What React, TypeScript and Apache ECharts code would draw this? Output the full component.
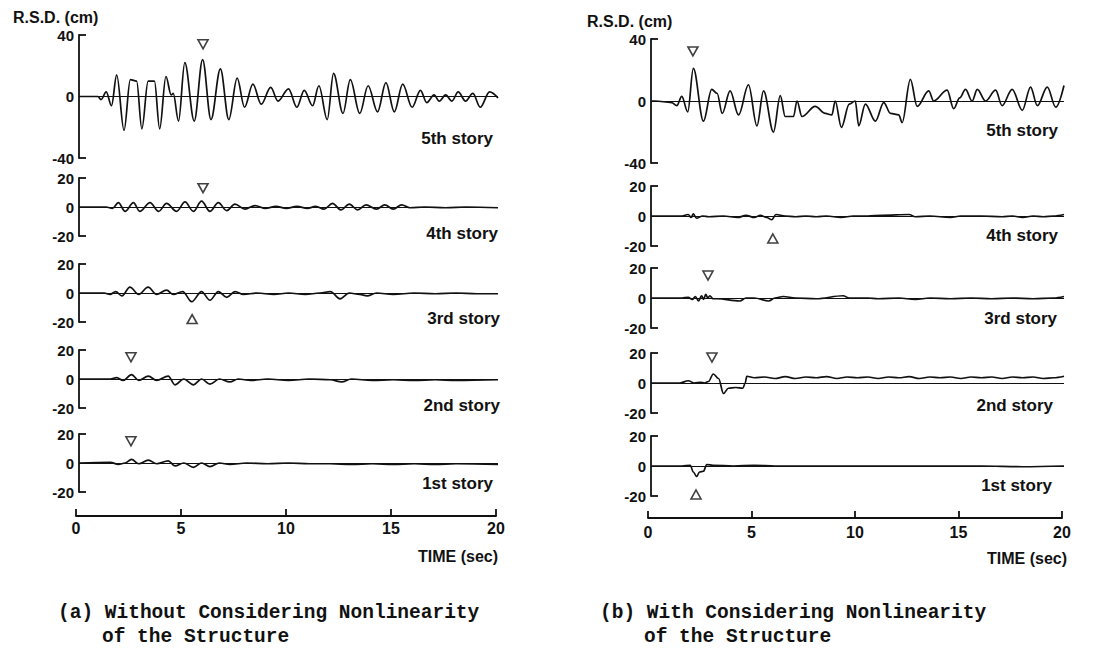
import React, { useEffect, useRef } from "react";
import * as echarts from "echarts";

// ---------- data: [time (sec), R.S.D. (cm)] ----------
const storyNames = ["5th story", "4th story", "3rd story", "2nd story", "1st story"];
const xTicks = [0, 5, 10, 15, 20];
const bigRange = 40;
const smallRange = 20;

// (a) Without considering nonlinearity
const aStory5 = [[0,0],[0.9,0],[1.05,-2],[1.3,3],[1.55,-6],[1.8,14],[2.15,-22],[2.45,11],[2.75,10],[3.0,-21],[3.3,10],[3.6,10],[3.85,-21],[4.15,13],[4.4,1],[4.5,2],[4.75,-16],[5.05,22],[5.5,-16],[5.9,24],[6.3,-15],[6.75,18],[7.15,-15],[7.55,12],[7.9,-7],[8.3,8],[8.7,-5],[9.15,6],[9.5,-3],[10.0,5],[10.4,-7],[10.75,4],[11.15,-6],[11.45,7],[11.85,-15],[12.15,15],[12.6,-11],[12.95,11],[13.4,-11],[13.8,7],[14.25,-10],[14.65,9],[15.05,-10],[15.45,8],[15.9,-7],[16.3,4],[16.6,-4],[16.95,1],[17.2,-3],[17.5,1],[17.8,-3],[18.1,3],[18.45,-3],[18.8,2],[19.15,-7],[19.6,3],[20,-1]];
const aStory4 = [[0,0],[1.3,0],[1.6,-1],[1.88,3],[2.2,-3],[2.6,3],[2.9,-3],[3.39,3],[3.8,-3],[4.18,2.5],[4.66,-3],[5.06,3.5],[5.46,-3],[5.85,4],[6.25,-3],[6.65,3],[7.05,-2.5],[7.44,2],[7.92,-1.5],[8.4,1],[8.9,-1],[9.4,0.5],[9.9,-1],[10.4,0.5],[10.9,-1],[11.3,0.5],[11.7,-1.5],[12.1,2.5],[12.5,-2],[12.9,2],[13.3,-2],[13.7,1.5],[14.2,-1.5],[14.6,1.5],[15.0,-1.5],[15.4,1.5],[15.8,-0.5],[16.5,0],[17.5,-0.5],[18.5,0],[20,-0.5]];
const aStory3 = [[0,0],[1.2,0],[1.48,-1],[1.75,1],[2.05,-2],[2.43,4],[2.85,-1],[3.3,4],[3.7,-1],[4.18,2],[4.5,-1],[4.95,1],[5.38,-6],[5.85,1],[6.25,-5],[6.65,1],[7.05,-3],[7.45,1],[7.85,-1],[8.5,0],[9.3,-1],[10.0,0],[10.8,-1],[11.5,0],[12.0,1],[12.46,-4],[12.9,0],[13.4,-1],[13.75,-2],[14.2,0],[15.0,-1],[16.0,0],[17.0,-0.5],[18.0,0],[19.0,-0.5],[20,-0.5]];
const aStory2 = [[0,0],[1.5,0],[1.8,1],[2.1,-1],[2.51,3],[2.85,-1],[3.31,2],[3.7,-1],[4.26,2],[4.58,-4],[5.0,0],[5.46,-4],[5.85,0],[6.25,-3.5],[6.7,0],[7.2,-2],[7.6,0],[8.2,-1],[9.0,0],[10.0,-1],[11.0,0],[12.0,-0.5],[12.54,-2],[13.0,0],[14.0,-1],[15.0,-0.5],[16.0,-1],[17.0,-0.5],[18.0,-1],[20,-0.5]];
const aStory1 = [[0,0],[1.5,0.5],[1.88,-1],[2.2,0],[2.51,2.5],[2.85,-0.5],[3.31,2],[3.7,-0.5],[4.26,1.5],[4.58,-2],[5.0,0],[5.46,-3],[5.85,0],[6.25,-2.5],[6.7,0],[7.2,-1],[8.0,0],[9.0,-0.5],[10.0,0],[11.0,-0.5],[12.0,-0.5],[13.0,-1],[14.0,-0.5],[15.0,-1],[16.0,-0.5],[17.0,-1],[18.0,-0.5],[20,-1]];

// (b) With considering nonlinearity
const bStory5 = [[0,0],[0.2,0],[1.0,-1],[1.25,-3],[1.49,3],[1.78,-7],[2.05,21],[2.54,-13],[2.94,7.5],[3.2,5],[3.45,-8],[3.83,6.5],[4.24,-9],[4.72,10.5],[5.13,-16],[5.45,6.5],[5.93,-20],[6.26,3.5],[6.5,-10],[6.9,-10],[7.07,0],[7.31,-10],[7.95,-3.5],[8.44,-8],[8.76,-9],[8.92,0],[9.22,-17],[9.6,-2],[9.89,0],[10.06,-16],[10.38,-2],[10.87,-13],[11.27,-1],[11.6,-8],[12.0,-9],[12.16,-14],[12.56,14],[12.89,-3.5],[13.45,6.5],[13.69,0],[14.34,7],[14.66,-5],[14.95,2],[15.23,7.5],[15.55,0],[15.8,7.5],[16.2,0],[16.69,7],[17.0,-3],[17.49,7.5],[17.98,-6],[18.38,9],[18.71,-3],[19.19,9],[19.6,-4],[20,10]];
const bStory4 = [[0,0],[1.5,0],[1.8,1],[1.95,-1],[2.05,1.5],[2.2,-1.5],[2.5,0],[2.8,-0.5],[3.5,0],[4.2,-1],[4.6,0.5],[5.0,-1],[5.3,0.5],[5.6,-1],[5.85,-2.5],[6.05,1],[6.5,0],[7.0,-0.5],[7.5,0],[8.0,-0.5],[8.5,0],[9.2,-1],[9.8,0],[10.5,0],[11.2,0.5],[12.5,1],[12.8,-0.5],[13.5,0],[14.5,-1],[15.0,0],[16.0,0],[17.0,-0.5],[17.5,0],[18.0,-1],[18.5,0],[19.0,-0.5],[19.5,0],[20,1]];
const bStory3 = [[0,0],[1.5,0],[1.8,0.5],[2.0,-1],[2.15,1],[2.3,-2],[2.45,1.5],[2.55,-1],[2.65,2.5],[2.75,0],[2.85,1.5],[3.0,-0.5],[3.2,-0.5],[4.3,-2],[4.6,0],[5.0,0],[5.7,-2],[6.0,0],[6.4,1],[7.0,0],[8.0,-0.5],[9.3,1.5],[9.6,0],[10.5,0],[11.0,-0.5],[12.0,0],[12.8,-1],[13.5,0],[14.5,-0.5],[15.5,0],[16.5,-0.5],[17.5,0],[18.5,-0.5],[19.5,0],[20,1]];
const bStory2 = [[0,0],[1.4,0],[1.8,1.5],[2.1,0],[2.4,0.5],[2.6,0],[2.78,1],[3.02,6],[3.27,3],[3.51,-7],[3.75,-3.5],[4.1,-3],[4.45,-3.5],[4.56,0],[4.64,4.5],[5.0,3.5],[5.5,4],[6.0,3],[6.5,4.2],[7.0,3],[7.5,4],[8.0,3.5],[8.5,4.3],[9.0,3],[9.5,4],[10.0,3.5],[10.5,4],[11.0,3],[11.5,4],[12.0,3.5],[12.5,4.2],[13.0,3],[13.5,4],[14.0,3.5],[14.5,4],[15.0,3],[15.5,4],[16.0,3.5],[16.5,4],[17.0,3],[17.5,4],[18.0,3.5],[18.5,4],[19.0,3],[19.5,3.5],[20,4.5]];
const bStory1 = [[0,0],[1.5,0],[1.9,0.5],[2.05,-4],[2.21,-7],[2.35,-4],[2.54,-3.5],[2.7,1],[3.0,0.5],[4.0,0],[5.0,0.5],[6.0,0],[8.0,0],[10.0,0],[12.0,0],[14.0,0],[16.0,0],[18.0,-0.5],[20,0]];

// peak markers: [time, value, pointsDown(1) / pointsUp(0)]
const aMarkers = [[5.92, 34, 1], [5.92, 13, 1], [5.4, -18, 0], [2.48, 15, 1], [2.48, 15, 1]];
const bMarkers = [[2.03, 32, 1], [5.9, -15, 0], [2.76, 15, 1], [2.95, 17, 1], [2.18, -19, 0]];

const aSeries = [aStory5, aStory4, aStory3, aStory2, aStory1];
const bSeries = [bStory5, bStory4, bStory3, bStory2, bStory1];

// ---------- layout ----------
const sides = [
  { left: 79, width: 419, tops: [35, 178, 264, 350, 434], heights: [123, 58, 58, 58, 58], axisTop: 515, labelMargin: 4,
    series: aSeries, markers: aMarkers,
    storyPos: [[493, 138], [498, 233], [500, 318], [500, 405], [493, 483]] },
  { left: 651, width: 413, tops: [39, 186, 268, 353, 436], heights: [124, 60, 60, 60, 60], axisTop: 517, labelMargin: 6,
    series: bSeries, markers: bMarkers,
    storyPos: [[1058, 130], [1058, 235], [1057, 318], [1053, 405], [1052, 485]] },
];

const FONT = "'Liberation Sans', Arial, Helvetica, sans-serif";
const MONO = "'Liberation Mono', 'Courier New', monospace";
const INK = "#111";

export default function App() {
  const ref = useRef<HTMLDivElement>(null);
  useEffect(() => {
    if (!ref.current) return;
    const chart = echarts.init(ref.current, null, { renderer: "svg" });
    const grid: any[] = [];
    const xAxis: any[] = [];
    const yAxis: any[] = [];
    const series: any[] = [];
    const graphic: any[] = [];

    sides.forEach((side) => {
      side.series.forEach((data, i) => {
        const idx = grid.length;
        const r = i === 0 ? bigRange : smallRange;
        grid.push({ left: side.left, top: side.tops[i], width: side.width, height: side.heights[i] });
        xAxis.push({ gridIndex: idx, type: "value", min: 0, max: 20, show: false });
        yAxis.push({
          gridIndex: idx, type: "value", min: -r, max: r, interval: r,
          axisLine: { show: true, lineStyle: { color: INK, width: 1.8 } },
          axisTick: { show: true, inside: true, length: 7, lineStyle: { color: INK, width: 1.8 }, customValues: [-r, r] },
          axisLabel: { color: INK, fontFamily: FONT, fontWeight: "bold", fontSize: 15, margin: 5 },
          splitLine: { show: false },
        });
        series.push({
          type: "line", xAxisIndex: idx, yAxisIndex: idx, data, showSymbol: false,
          smooth: 0.35, smoothMonotone: "x",
          lineStyle: { color: INK, width: 1.7 },
          markLine: { silent: true, symbol: "none", label: { show: false },
            lineStyle: { color: INK, width: 1, type: "solid" }, data: [{ yAxis: 0 }] },
        });
        const m = side.markers[i];
        series.push({
          type: "scatter", xAxisIndex: idx, yAxisIndex: idx, data: [[m[0], m[1]]],
          symbol: "triangle", symbolSize: [10, 9], symbolRotate: m[2] ? 180 : 0,
          itemStyle: { color: "#fff", borderColor: INK, borderWidth: 1.6 },
        });
        graphic.push({
          type: "text", x: side.storyPos[i][0], y: side.storyPos[i][1],
          style: { text: storyNames[i], textAlign: "right", textVerticalAlign: "middle",
            font: `bold 17px ${FONT}`, fill: INK },
        });
      });
      // time axis
      const idx = grid.length;
      grid.push({ left: side.left - 3, top: side.axisTop, width: side.width + 1, height: 1 });
      xAxis.push({
        gridIndex: idx, type: "value", min: 0, max: 20, interval: 5, position: "bottom",
        axisLine: { show: true, lineStyle: { color: INK, width: 1.8 } },
        axisTick: { show: true, inside: true, length: 7, lineStyle: { color: INK, width: 1.8 } },
        axisLabel: { color: INK, fontFamily: FONT, fontWeight: "bold", fontSize: 16, margin: side.labelMargin,
          customValues: xTicks },
        splitLine: { show: false },
      });
      yAxis.push({ gridIndex: idx, type: "value", min: 0, max: 1, show: false });
    });

    const cap = `bold 19.5px ${MONO}`;
    graphic.push(
      { type: "text", x: 13, y: 17, style: { text: "R.S.D. (cm)", textVerticalAlign: "middle", font: `bold 16px ${FONT}`, fill: INK } },
      { type: "text", x: 587, y: 21, style: { text: "R.S.D. (cm)", textVerticalAlign: "middle", font: `bold 16px ${FONT}`, fill: INK } },
      { type: "text", x: 498, y: 556, style: { text: "TIME (sec)", textAlign: "right", textVerticalAlign: "middle", font: `bold 16px ${FONT}`, fill: INK } },
      { type: "text", x: 1067, y: 558, style: { text: "TIME (sec)", textAlign: "right", textVerticalAlign: "middle", font: `bold 16px ${FONT}`, fill: INK } },
      { type: "text", x: 58, y: 613, style: { text: "(a) Without Considering Nonlinearity", textVerticalAlign: "middle", font: cap, fill: INK } },
      { type: "text", x: 102, y: 637, style: { text: "of the Structure", textVerticalAlign: "middle", font: cap, fill: INK } },
      { type: "text", x: 600, y: 613, style: { text: "(b) With Considering Nonlinearity", textVerticalAlign: "middle", font: cap, fill: INK } },
      { type: "text", x: 644, y: 637, style: { text: "of the Structure", textVerticalAlign: "middle", font: cap, fill: INK } },
    );

    chart.setOption({ animation: false, backgroundColor: "#fff", grid, xAxis, yAxis, series, graphic });
    return () => chart.dispose();
  }, []);
  return <div ref={ref} style={{ position: "fixed", left: 0, top: 0, width: 1112, height: 648 }} />;
}
